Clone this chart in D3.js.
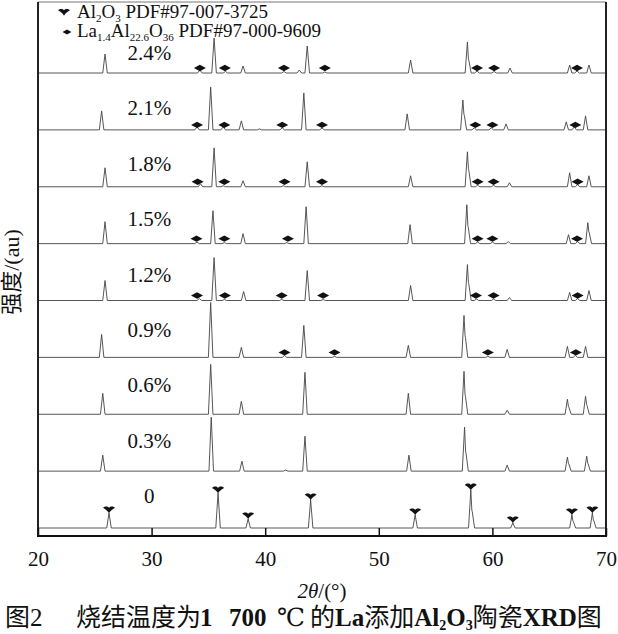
<!DOCTYPE html>
<html>
<head>
<meta charset="utf-8">
<script src="https://cdn.jsdelivr.net/npm/d3@7"></script>
<style>
  body { margin: 0; background: #fff; }
  svg text { font-family: "Liberation Serif", "Times New Roman", Times, "DejaVu Serif", "Noto Sans CJK SC", serif; fill: #111; }
</style>
</head>
<body>
<svg id="xrd" width="618" height="634"></svg>
<script>
// La content of each sample, top to bottom
const samples = ["2.4%", "2.1%", "1.8%", "1.5%", "1.2%", "0.9%", "0.6%", "0.3%", "0"];

// peaks: [2theta, height (au), shoulder height (au)]
const peaks24 = [[25.9,19],[34.25,3],[35.5,35],[36.5,1.5],[38.05,7],[41.65,1.5],[43.0,3],[43.7,27],[45.25,1],[52.8,13],[57.8,31,14],[58.65,2],[60.15,1.5],[61.55,5],[66.8,8],[67.45,2],[68.5,8]];
const peaks21 = [[25.6,19],[34.0,3],[35.2,43],[36.3,3],[37.9,9],[39.5,1],[41.5,2],[43.4,37],[45.0,2],[52.5,16],[57.4,30,16],[58.4,2],[59.9,2],[61.2,6],[66.5,8],[67.2,3],[68.2,14]];
const peaks18 = [[25.9,19],[34.3,3],[35.5,39],[36.3,1],[38.05,6],[41.6,1],[43.7,25],[45.0,1],[52.8,11],[57.8,35,18],[58.7,1.5],[60.1,1.5],[61.5,4],[66.8,14],[67.5,2],[68.5,11]];
const peaks15 = [[25.9,22],[34.0,1.5],[35.4,33],[36.4,1],[38.05,10],[41.9,1],[43.6,37],[52.75,19],[57.75,39,18],[58.7,1.5],[60.0,1.5],[61.4,2],[66.7,9],[67.5,2],[68.4,21,12]];
const peaks12 = [[25.9,20],[34.2,2],[35.5,43],[36.4,1],[38.1,9],[41.45,1],[43.7,30],[45.1,1],[52.8,15],[57.8,36,18],[58.6,1.5],[60.1,1.5],[61.5,3],[66.8,8],[67.5,2],[68.5,10]];
const peaks09 = [[25.6,23],[35.2,55],[37.9,10],[41.7,2],[43.4,32],[46.1,1],[52.6,12],[57.5,42,22],[59.6,1],[61.3,8],[66.6,11],[67.3,2],[68.2,11]];
const peaks06 = [[25.7,21],[35.2,50],[37.9,13],[43.5,42],[52.6,21],[57.5,43,20],[61.3,4],[66.6,15,8],[68.2,18,10]];
const peaks03 = [[25.7,16],[35.25,54],[37.95,10],[41.8,1],[43.5,35],[52.65,16],[57.55,44,20],[61.3,6],[66.6,14,8],[68.3,15,8]];
const peaks00 = [[26.25,15],[35.85,35],[38.5,9],[44.0,28],[53.2,13],[58.1,38,18],[61.8,5],[67.0,13,7],[68.8,15,8]];

// La1.4Al22.6O36 markers (2theta) per sample
const la24 = [34.25, 36.45, 41.65, 45.25, 58.65, 60.15, 67.45];
const la21 = [34.0, 36.4, 41.5, 45.0, 58.5, 60.0, 67.3];
const la18 = [34.05, 36.4, 41.7, 45.0, 58.7, 60.1, 67.5];
const la15 = [33.95, 36.4, 42.0, 58.7, 60.0, 67.45];
const la12 = [34.0, 36.45, 41.45, 45.1, 58.55, 60.1, 67.5];
const la09 = [41.7, 46.1, 59.6, 67.35];

// Al2O3 markers on the undoped sample
const al00 = [26.25, 35.85, 38.5, 44.0, 53.2, 58.1, 61.8, 67.0, 68.8];

const xTicks = [20, 30, 40, 50, 60, 70];

const tracePeaks = [peaks24, peaks21, peaks18, peaks15, peaks12, peaks09, peaks06, peaks03, peaks00];
const traceLa = [la24, la21, la18, la15, la12, la09, [], [], []];

const svg = d3.select("#xrd");
const mLeft = 38, mRight = 606, mTop = 2, mBottom = 536;
const step = 57; // vertical offset between patterns (au)
const serif = '"Liberation Serif", "Times New Roman", Times, "DejaVu Serif", "Noto Sans CJK SC", serif';

const x = d3.scaleLinear().domain([20, 70]).range([mLeft, mRight]);
const y = d3.scaleLinear().domain([0, 8 * step]).range([528, 73]);

function offsetOf(i) { return (samples.length - 1 - i) * step; }

// turn a peak list into the points of the pattern
function profile(peaks) {
  const w = 0.2;
  const pts = [[20, 0]];
  peaks.forEach(function(p) {
    pts.push([p[0] - w, 0], [p[0], p[1]]);
    if (p[2]) {
      pts.push([p[0] + 0.09, p[2]], [p[0] + 0.13, p[2] * 0.9], [p[0] + 0.33, 0]);
    } else {
      pts.push([p[0] + w, 0]);
    }
  });
  pts.push([70, 0]);
  return pts;
}

// patterns
tracePeaks.forEach(function(peaks, i) {
  const off = offsetOf(i);
  const line = d3.line()
    .x(function(d) { return x(d[0]); })
    .y(function(d) { return y(off + d[1]); });
  svg.append("path")
    .datum(profile(peaks))
    .attr("d", line)
    .attr("fill", "none")
    .attr("stroke", "#444")
    .attr("stroke-width", 0.9);
});

// sample labels
svg.selectAll(".slabel")
  .data(samples)
  .enter()
  .append("text")
    .attr("class", "slabel")
    .attr("x", x(29.8))
    .attr("y", function(d, i) { return 60 + i * 55.4; })
    .attr("text-anchor", "middle")
    .style("font-family", serif)
    .style("font-size", "21px")
    .text(function(d) { return d; });

// markers
const diamond = "M-6,0 L0,-3.2 L6,0 L0,3.2 Z";
const bowl = "M-6,-2.2 C-4,-4.2 -1.2,-3.8 0,-2.2 C1.2,-3.8 4,-4.2 6,-2.2 C4,-1 1,1 0,3.2 C-1,1 -4,-1 -6,-2.2 Z";

traceLa.forEach(function(list, i) {
  const off = offsetOf(i);
  svg.selectAll(null)
    .data(list)
    .enter()
    .append("path")
      .attr("d", diamond)
      .attr("transform", function(d) { return "translate(" + x(d) + "," + (y(off) - 5) + ")"; })
      .attr("fill", "#111");
});

svg.selectAll(null)
  .data(al00)
  .enter()
  .append("path")
    .attr("d", bowl)
    .attr("transform", function(d) {
      const pk = peaks00.find(function(p) { return p[0] === d; });
      return "translate(" + x(d) + "," + (y(pk[1]) - 3) + ")";
    })
    .attr("fill", "#111");

// frame
svg.append("line").attr("x1", mLeft).attr("x2", mRight).attr("y1", mTop).attr("y2", mTop)
  .attr("stroke", "#777").attr("stroke-width", 1);
svg.append("line").attr("x1", mLeft).attr("x2", mLeft).attr("y1", mTop).attr("y2", mBottom)
  .attr("stroke", "#222").attr("stroke-width", 2);
svg.append("line").attr("x1", mRight).attr("x2", mRight).attr("y1", mTop).attr("y2", mBottom)
  .attr("stroke", "#222").attr("stroke-width", 2);

// x axis
const xAxis = svg.append("g")
  .attr("transform", "translate(0," + mBottom + ")")
  .call(d3.axisBottom(x).tickValues(xTicks).tickSize(-8).tickPadding(15));
xAxis.attr("font-family", null);
xAxis.select(".domain").remove();
xAxis.selectAll(".tick line").attr("stroke", "#111").attr("stroke-width", 1.5);
xAxis.selectAll(".tick text")
  .style("font-family", serif)
  .style("font-size", "21px")
  .attr("fill", "#111");
svg.append("line").attr("x1", mLeft - 1).attr("x2", mRight + 1).attr("y1", mBottom).attr("y2", mBottom)
  .attr("stroke", "#111").attr("stroke-width", 2);

// axis titles
const xt = svg.append("text")
  .attr("x", 322).attr("y", 598)
  .attr("text-anchor", "middle")
  .style("font-family", serif)
  .style("font-size", "21px");
xt.append("tspan").style("font-style", "italic").text("2θ");
xt.append("tspan").text("/(°)");

svg.append("text")
  .attr("transform", "translate(19,272) rotate(-90)")
  .attr("text-anchor", "middle")
  .style("font-family", serif)
  .style("font-size", "22px")
  .text("强度/(au)");

// legend
svg.append("path").attr("d", bowl).attr("transform", "translate(64,12.5)").attr("fill", "#111");
svg.append("path").attr("d", diamond).attr("transform", "translate(67,32) scale(0.75)").attr("fill", "#111");

const lg1 = svg.append("text").attr("x", 77).attr("y", 18).style("font-family", serif).style("font-size", "19px");
lg1.append("tspan").text("Al");
lg1.append("tspan").attr("baseline-shift", "-4").style("font-size", "11px").text("2");
lg1.append("tspan").text("O");
lg1.append("tspan").attr("baseline-shift", "-4").style("font-size", "11px").text("3");
lg1.append("tspan").text(" PDF#97-007-3725");

const lg2 = svg.append("text").attr("x", 77).attr("y", 37).style("font-family", serif).style("font-size", "19px");
lg2.append("tspan").text("La");
lg2.append("tspan").attr("baseline-shift", "-4").style("font-size", "11px").text("1.4");
lg2.append("tspan").text("Al");
lg2.append("tspan").attr("baseline-shift", "-4").style("font-size", "11px").text("22.6");
lg2.append("tspan").text("O");
lg2.append("tspan").attr("baseline-shift", "-4").style("font-size", "11px").text("36");
lg2.append("tspan").text(" PDF#97-000-9609");

// caption
const cap = svg.append("text").attr("y", 626).style("font-family", serif).style("font-size", "25px");
cap.append("tspan").attr("x", 5).text("图2");
cap.append("tspan").attr("x", 76).text("烧结温度为");
cap.append("tspan").attr("x", 200).style("font-weight", "bold").text("1");
cap.append("tspan").attr("x", 229).style("font-weight", "bold").text("700");
cap.append("tspan").attr("x", 277).text("℃");
cap.append("tspan").attr("x", 310).text("的");
cap.append("tspan").style("font-weight", "bold").text("La");
cap.append("tspan").text("添加");
cap.append("tspan").style("font-weight", "bold").text("Al");
cap.append("tspan").attr("baseline-shift", "-4").style("font-size", "14px").style("font-weight", "bold").text("2");
cap.append("tspan").style("font-weight", "bold").text("O");
cap.append("tspan").attr("baseline-shift", "-4").style("font-size", "14px").style("font-weight", "bold").text("3");
cap.append("tspan").text("陶瓷");
cap.append("tspan").style("font-weight", "bold").text("XRD");
cap.append("tspan").text("图");
</script>
</body>
</html>
